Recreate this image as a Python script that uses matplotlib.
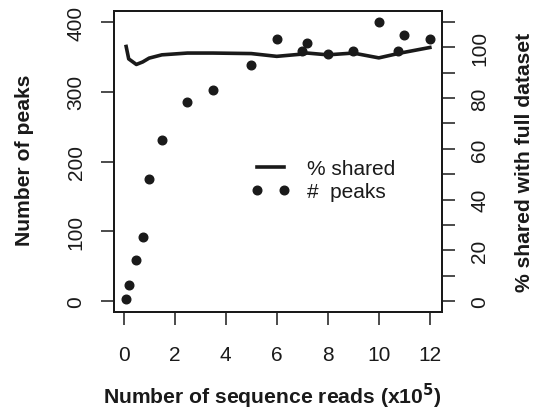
import matplotlib
matplotlib.use("Agg")
import matplotlib.pyplot as plt
from matplotlib.lines import Line2D

plt.rcParams['font.family'] = ['Liberation Sans', 'DejaVu Sans']

# data
reads = [0.1, 0.2, 0.5, 0.75, 1.0, 1.5, 2.5, 3.5, 5.0, 6.0, 7.0, 7.2, 8.0, 9.0, 10.0, 10.75, 11.0, 12.0]
peaks = [2, 23, 59, 91, 175, 231, 285, 303, 338, 376, 359, 370, 354, 359, 400, 359, 381, 376]
shared = [100.4, 95.5, 93.3, 94.3, 95.8, 97.1, 97.8, 97.8, 97.6, 96.5, 97.4, 97.8, 97.1, 97.8, 95.9, 97.6, 98.1, 100.0]

x_ticks = [0, 2, 4, 6, 8, 10, 12]
left_ticks = [0, 100, 200, 300, 400]
right_ticks = [0, 10, 20, 30, 40, 50, 60, 70, 80, 90, 100, 110]
right_labels = ['0', '', '20', '', '40', '', '60', '', '80', '', '100', '']

W, H = 536, 410
fig = plt.figure(figsize=(W / 100, H / 100), dpi=100)
ax = fig.add_axes([114 / W, 1 - 313 / H, (442 - 114) / W, (313 - 12) / H])
ax2 = ax.twinx()

fs = 15
ink = '#1a1a1a'

ax.plot(reads, peaks, 'o', color=ink, markersize=6.2, linestyle='none')
ax2.plot(reads, shared, '-', color=ink, linewidth=2.6)

ax.set_xlim(-0.376, 12.476)
ylo, yhi = -16, 416
ax.set_ylim(ylo, yhi)
ax2.set_ylim(ylo * 110 / 400, yhi * 110 / 400)

ax.set_xticks(x_ticks)
ax.set_xticklabels([str(v) for v in x_ticks])
ax.set_yticks(left_ticks)
ax.set_yticklabels([str(v) for v in left_ticks], rotation=90, va='center')
ax2.set_yticks(right_ticks)
ax2.set_yticklabels(right_labels, rotation=90, va='center')

for a in (ax, ax2):
    for s in a.spines.values():
        s.set_linewidth(1.4)
        s.set_color(ink)
    a.tick_params(length=9.5, width=1.1, color=ink, labelsize=fs, labelcolor=ink)
ax.tick_params(axis='x', pad=14)
ax.tick_params(axis='y', pad=11)
ax2.tick_params(axis='y', pad=11)

lab_fs = 15.2
fig.text(25 / W, 1 - 160 / H, 'Number of peaks', rotation=90, ha='center', va='center',
         fontsize=lab_fs, fontweight='bold', color=ink)
fig.text(525 / W, 1 - 162 / H, '% shared with full dataset', rotation=90, ha='center', va='center',
         fontsize=lab_fs, fontweight='bold', color=ink)
fig.text(272 / W, 1 - 396 / H, 'Number of sequence reads (x10$^{\\mathbf{5}}$)', ha='center', va='center',
         fontsize=lab_fs, fontweight='bold', color=ink)

handles = [Line2D([], [], color=ink, linewidth=2.6),
           Line2D([], [], color=ink, marker='o', markersize=6.2, linestyle='none')]
leg = ax.legend(handles, ['% shared', '#  peaks'], numpoints=2, frameon=False,
                fontsize=fs, handlelength=1.9, handletextpad=0.8, labelspacing=0.2,
                loc='upper left', bbox_to_anchor=(251 / W, 1 - 160 / H),
                bbox_transform=fig.transFigure, borderpad=0, borderaxespad=0)
for t in leg.get_texts():
    t.set_color(ink)

fig.savefig('out.png', dpi=100)
